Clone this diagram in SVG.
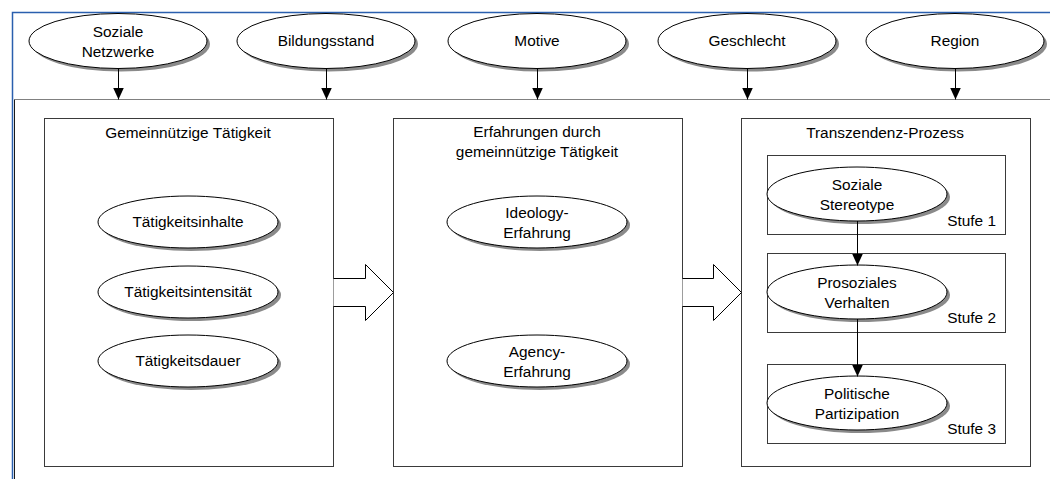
<svg xmlns="http://www.w3.org/2000/svg" width="1050" height="479" viewBox="0 0 1050 479">
<style>
text{font-family:"Liberation Sans",Arial,sans-serif;font-size:15.4px;fill:#000;text-anchor:middle}
.box{fill:#fff;stroke:#3a3a3a;stroke-width:1}
.ell{fill:#fff;stroke:#000;stroke-width:1}
.sh{fill:#8a8a8a}
.con{stroke:#000;stroke-width:1;fill:none}
.blk{fill:#fff;stroke:#000;stroke-width:1}
.end{text-anchor:end}
</style>
<defs>
<marker id="ah" markerUnits="userSpaceOnUse" markerWidth="12" markerHeight="12" refX="12" refY="5.5" orient="auto">
<path d="M0,0 L12,5.5 L0,11 z" fill="#000"/>
</marker>
</defs>
<rect width="1050" height="479" fill="#fff"/>
<g id="frame">
<path d="M12.5,479 V12.5 H1050" fill="none" stroke="#2a5fae" stroke-width="1.5"/>
<path d="M1050,99.5 H14.5" fill="none" stroke="#808080" stroke-width="1"/>
<path d="M14.5,99.5 V479" fill="none" stroke="#1a1a1a" stroke-width="1"/>
</g>
<g id="soziale-netzwerke">
<ellipse class="sh" cx="121" cy="44" rx="89" ry="27.5"/>
<ellipse class="ell" cx="118" cy="41" rx="89" ry="27.5"/>
<text x="118" y="37">Soziale</text><text x="118" y="57">Netzwerke</text>
</g>
<g id="bildungsstand">
<ellipse class="sh" cx="329" cy="44" rx="89" ry="27.5"/>
<ellipse class="ell" cx="326" cy="41" rx="89" ry="27.5"/>
<text x="326" y="46">Bildungsstand</text>
</g>
<g id="motive">
<ellipse class="sh" cx="540" cy="44" rx="89" ry="27.5"/>
<ellipse class="ell" cx="537" cy="41" rx="89" ry="27.5"/>
<text x="537" y="46">Motive</text>
</g>
<g id="geschlecht">
<ellipse class="sh" cx="750" cy="44" rx="89" ry="27.5"/>
<ellipse class="ell" cx="747" cy="41" rx="89" ry="27.5"/>
<text x="747" y="46">Geschlecht</text>
</g>
<g id="region">
<ellipse class="sh" cx="958" cy="44" rx="89" ry="27.5"/>
<ellipse class="ell" cx="955" cy="41" rx="89" ry="27.5"/>
<text x="955" y="46">Region</text>
</g>
<g id="box-gemeinnuetzig">
<rect class="box" x="44.5" y="118.5" width="289" height="348"/>
<text x="188" y="138">Gemeinnützige Tätigkeit</text>
</g>
<g id="taetigkeitsinhalte">
<ellipse class="sh" cx="191" cy="225" rx="90" ry="26"/>
<ellipse class="ell" cx="188" cy="222" rx="90" ry="26"/>
<text x="188" y="227">Tätigkeitsinhalte</text>
</g>
<g id="taetigkeitsintensitaet">
<ellipse class="sh" cx="191" cy="295" rx="90" ry="26"/>
<ellipse class="ell" cx="188" cy="292" rx="90" ry="26"/>
<text x="188" y="297">Tätigkeitsintensität</text>
</g>
<g id="taetigkeitsdauer">
<ellipse class="sh" cx="191" cy="364" rx="90" ry="26"/>
<ellipse class="ell" cx="188" cy="361" rx="90" ry="26"/>
<text x="188" y="366">Tätigkeitsdauer</text>
</g>
<g id="box-erfahrungen">
<rect class="box" x="393.5" y="118.5" width="289" height="348"/>
<text x="537" y="137">Erfahrungen durch</text>
<text x="537" y="157">gemeinnützige Tätigkeit</text>
</g>
<g id="ideology">
<ellipse class="sh" cx="540" cy="225" rx="90" ry="26"/>
<ellipse class="ell" cx="537" cy="222" rx="90" ry="26"/>
<text x="537" y="218">Ideology-</text><text x="537" y="238">Erfahrung</text>
</g>
<g id="agency">
<ellipse class="sh" cx="540" cy="364" rx="90" ry="26"/>
<ellipse class="ell" cx="537" cy="361" rx="90" ry="26"/>
<text x="537" y="357">Agency-</text><text x="537" y="377">Erfahrung</text>
</g>
<g id="box-transzendenz">
<rect class="box" x="741.5" y="118.5" width="289" height="348"/>
<text x="885" y="138">Transzendenz-Prozess</text>
</g>
<g id="stufe1">
<rect class="box" x="767.5" y="155.5" width="238" height="79"/>
<text class="end" x="996" y="226">Stufe 1</text>
</g>
<g id="stufe2">
<rect class="box" x="767.5" y="253.5" width="238" height="79"/>
<text class="end" x="996" y="323">Stufe 2</text>
</g>
<g id="stufe3">
<rect class="box" x="767.5" y="364.5" width="238" height="79"/>
<text class="end" x="996" y="434">Stufe 3</text>
</g>
<g id="soziale-stereotype">
<ellipse class="sh" cx="860" cy="197" rx="90" ry="27"/>
<ellipse class="ell" cx="857" cy="194" rx="90" ry="27"/>
<text x="857" y="190">Soziale</text><text x="857" y="210">Stereotype</text>
</g>
<g id="prosoziales-verhalten">
<ellipse class="sh" cx="860" cy="295" rx="90" ry="27"/>
<ellipse class="ell" cx="857" cy="292" rx="90" ry="27"/>
<text x="857" y="288">Prosoziales</text><text x="857" y="308">Verhalten</text>
</g>
<g id="politische-partizipation">
<ellipse class="sh" cx="860" cy="406" rx="90" ry="27"/>
<ellipse class="ell" cx="857" cy="403" rx="90" ry="27"/>
<text x="857" y="399">Politische</text><text x="857" y="419">Partizipation</text>
</g>
<g id="connectors">
<line class="con" x1="118.5" y1="68.5" x2="118.5" y2="99.5" marker-end="url(#ah)"/>
<line class="con" x1="326.5" y1="68.5" x2="326.5" y2="99.5" marker-end="url(#ah)"/>
<line class="con" x1="537.5" y1="68.5" x2="537.5" y2="99.5" marker-end="url(#ah)"/>
<line class="con" x1="747.5" y1="68.5" x2="747.5" y2="99.5" marker-end="url(#ah)"/>
<line class="con" x1="955.5" y1="68.5" x2="955.5" y2="99.5" marker-end="url(#ah)"/>
<line class="con" x1="857.5" y1="221" x2="857.5" y2="265.5" marker-end="url(#ah)"/>
<line class="con" x1="857.5" y1="319" x2="857.5" y2="376.5" marker-end="url(#ah)"/>
<path class="blk" d="M333.5,278.5 H365.5 V264.5 L393.5,292.5 L365.5,320.5 V306.5 H333.5"/>
<path class="blk" d="M682.5,278.5 H713.5 V264.5 L741.5,292.5 L713.5,320.5 V306.5 H682.5"/>
</g>
</svg>
